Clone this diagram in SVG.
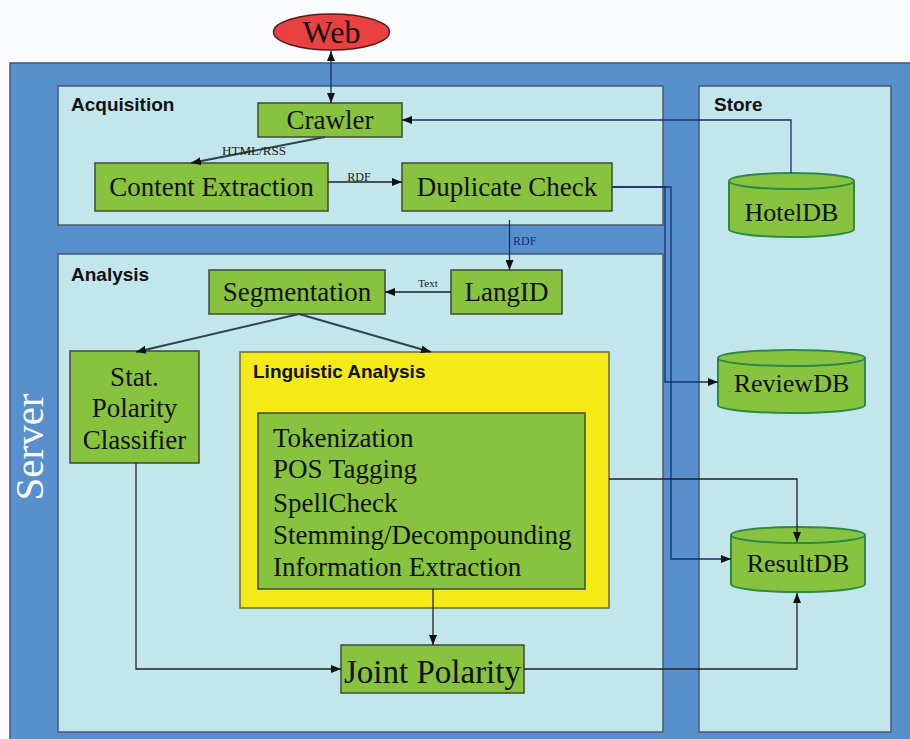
<svg xmlns="http://www.w3.org/2000/svg" width="910" height="739" viewBox="0 0 910 739">
<defs>
<marker id="ah" viewBox="0 0 10 8" refX="10" refY="4" markerWidth="10" markerHeight="8" markerUnits="userSpaceOnUse" orient="auto-start-reverse"><path d="M0,0 L10,4 L0,8 z" fill="#111"/></marker>
</defs>
<style>
.panel{fill:#c3e5ec;stroke:#4a5a66;stroke-width:1.5}
.box{fill:#88c340;stroke:#3f4a3a;stroke-width:1.5}
.db{fill:#88c340;stroke:#2d8a45;stroke-width:2}
.t{font-family:"Liberation Serif","Times New Roman",serif;font-size:27px;fill:#111}
.lbl{font-family:"Liberation Sans",Arial,sans-serif;font-size:19px;font-weight:bold;fill:#111}
.sm{font-family:"Liberation Serif","Times New Roman",serif;font-size:12px;fill:#222}
.ln{fill:none;stroke:#222;stroke-width:1.3}
.nv{fill:none;stroke:#1b2a78;stroke-width:1.3}
.th{fill:none;stroke:#2c4450;stroke-width:2}
</style>
<rect x="0" y="0" width="910" height="739" fill="#fafbfd"/>
<g id="server">
<rect x="10" y="63" width="910" height="690" fill="#5790cc" stroke="#3a5a80" stroke-width="1.5"/>
<text transform="translate(43,447) rotate(-90)" text-anchor="middle" font-family="Liberation Serif,Times New Roman,serif" font-size="41" fill="#ffffff">Server</text>
</g>
<g id="acquisition">
<rect class="panel" x="58" y="86" width="605" height="139"/>
<text class="lbl" x="71" y="111">Acquisition</text>
</g>
<g id="store">
<rect class="panel" x="699" y="86" width="192" height="646"/>
<text class="lbl" x="714" y="111">Store</text>
</g>
<g id="analysis">
<rect class="panel" x="58" y="254" width="605" height="478"/>
<text class="lbl" x="71" y="281">Analysis</text>
</g>
<g id="web">
<ellipse cx="331.5" cy="32" rx="58" ry="18" fill="#e8413f" stroke="#5a1a1a" stroke-width="1.5"/>
<text class="t" x="331.5" y="43" text-anchor="middle" style="font-size:32px">Web</text>
</g>
<g id="crawler">
<rect class="box" x="258" y="103" width="144" height="34"/>
<text class="t" x="330" y="129" text-anchor="middle">Crawler</text>
</g>
<g id="content-extraction">
<rect class="box" x="95" y="163" width="233" height="48"/>
<text class="t" x="211.5" y="196" text-anchor="middle">Content Extraction</text>
</g>
<g id="duplicate-check">
<rect class="box" x="402" y="163" width="210" height="48"/>
<text class="t" x="507" y="196" text-anchor="middle">Duplicate Check</text>
</g>
<g id="hoteldb">
<path class="db" d="M729,181 L729,229 A62.5,8 0 0 0 854,229 L854,181"/>
<ellipse class="db" cx="791.5" cy="181" rx="62.5" ry="8"/>
<text class="t" x="791.5" y="221" text-anchor="middle" style="font-size:26px">HotelDB</text>
</g>
<g id="segmentation">
<rect class="box" x="209" y="270" width="176" height="44"/>
<text class="t" x="297" y="301" text-anchor="middle">Segmentation</text>
</g>
<g id="langid">
<rect class="box" x="451" y="270" width="111" height="44"/>
<text class="t" x="506.5" y="301" text-anchor="middle">LangID</text>
</g>
<g id="stat-polarity">
<rect class="box" x="70" y="351" width="129" height="112"/>
<text class="t" x="134.5" y="386" text-anchor="middle">Stat.</text>
<text class="t" x="134.5" y="417" text-anchor="middle">Polarity</text>
<text class="t" x="134.5" y="449" text-anchor="middle">Classifier</text>
</g>
<g id="linguistic-analysis">
<rect x="240" y="352" width="369" height="256" fill="#f4ea18" stroke="#6a6a40" stroke-width="1.5"/>
<text class="lbl" x="253" y="378">Linguistic Analysis</text>
<rect class="box" x="258" y="413" width="327" height="176"/>
<text class="t" x="273" y="446.5">Tokenization</text>
<text class="t" x="273" y="477.5">POS Tagging</text>
<text class="t" x="273" y="511.5">SpellCheck</text>
<text class="t" x="273" y="543.5">Stemming/Decompounding</text>
<text class="t" x="273" y="575.5">Information Extraction</text>
</g>
<g id="reviewdb">
<path class="db" d="M718,358 L718,405 A73.5,8 0 0 0 865,405 L865,358"/>
<ellipse class="db" cx="791.5" cy="358" rx="73.5" ry="8"/>
<text class="t" x="791.5" y="392" text-anchor="middle" style="font-size:26px">ReviewDB</text>
</g>
<g id="resultdb">
<path class="db" d="M731,535 L731,584 A67,8 0 0 0 865,584 L865,535"/>
<ellipse class="db" cx="798" cy="535" rx="67" ry="8"/>
<text class="t" x="798" y="572" text-anchor="middle" style="font-size:26px">ResultDB</text>
</g>
<g id="joint-polarity">
<rect class="box" x="341" y="645" width="183" height="48"/>
<text class="t" x="432.5" y="683" text-anchor="middle" style="font-size:33px">Joint Polarity</text>
</g>
<g id="connectors">
<line class="nv" x1="331" y1="51" x2="331" y2="103" marker-start="url(#ah)" marker-end="url(#ah)"/>
<path class="nv" d="M791,173 V120 H402" marker-end="url(#ah)"/>
<line class="th" x1="325" y1="137" x2="191" y2="163" marker-end="url(#ah)"/>
<text class="sm" x="254" y="155" text-anchor="middle" textLength="64" lengthAdjust="spacingAndGlyphs">HTML/RSS</text>
<line class="ln" x1="328" y1="182" x2="402" y2="182" marker-end="url(#ah)"/>
<text class="sm" x="359" y="181" text-anchor="middle">RDF</text>
<path class="nv" d="M612,187 H665 V382 H718" marker-end="url(#ah)"/>
<path class="nv" d="M612,187 H671 V559 H731" marker-end="url(#ah)"/>
<line class="nv" x1="509.5" y1="220" x2="509.5" y2="270" marker-end="url(#ah)"/>
<text class="sm" x="513" y="245" style="fill:#1b2a78">RDF</text>
<line class="ln" x1="451" y1="292" x2="385" y2="292" marker-end="url(#ah)"/>
<text class="sm" x="428" y="287" text-anchor="middle" style="font-size:11px">Text</text>
<line class="th" x1="299" y1="314" x2="136" y2="352" marker-end="url(#ah)"/>
<line class="th" x1="299" y1="314" x2="431" y2="352" marker-end="url(#ah)"/>
<path class="ln" d="M609,479 H797 V542" marker-end="url(#ah)"/>
<path class="ln" d="M136,463 V669 H341" marker-end="url(#ah)"/>
<line class="ln" x1="433" y1="589" x2="433" y2="645" marker-end="url(#ah)"/>
<path class="ln" d="M524,669 H797 V593" marker-end="url(#ah)"/>
</g>
</svg>
